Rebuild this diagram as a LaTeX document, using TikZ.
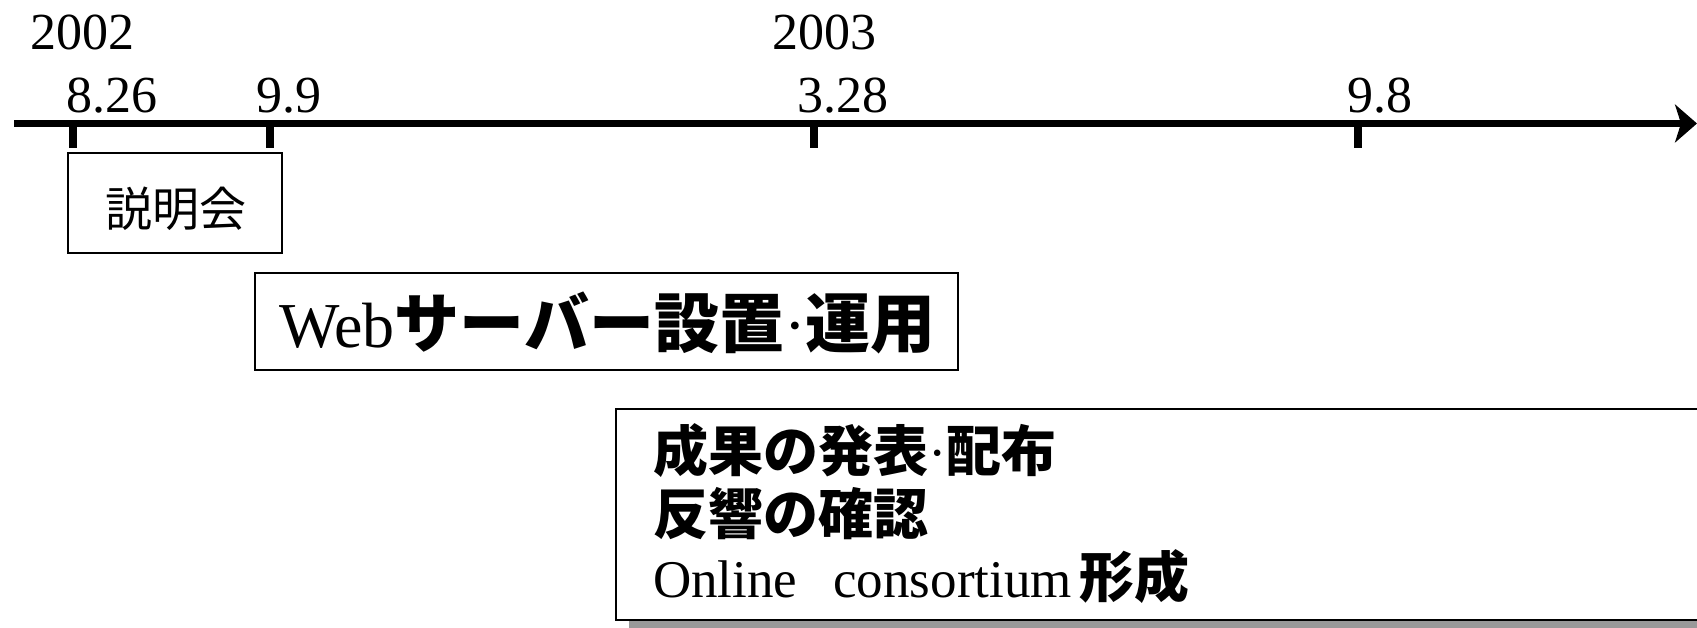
\documentclass[tikz,border=0pt]{standalone}
\usepackage{fontspec}
\setmainfont{Liberation Serif}
\newfontfamily\cjk{Noto Sans CJK JP}
\usetikzlibrary{arrows.meta}
\tikzset{
  lbl/.style={anchor=base west, inner sep=0pt, font=\fontsize{52}{52}\selectfont},
  evbox/.style={draw=black, line width=1.6pt, fill=white, inner sep=0pt},
  txt/.style={anchor=base west, inner sep=0pt},
  tickmark/.style={line width=8pt},
  axis/.style={line width=7pt, -{Stealth[length=22pt,width=38pt,inset=6pt]}},
}
\begin{document}
\begin{tikzpicture}[x=1pt,y=-1pt]
\useasboundingbox (0,0) rectangle (1697,628);
% axis
\coordinate (a0) at (14,123.5);
\coordinate (a1) at (1697,123.5);
\draw[axis] (a0) -- (a1);
% ticks
\foreach \n/\x in {t1/73, t2/270, t3/814, t4/1358}{
  \coordinate (\n) at (\x,123.5);
  \draw[tickmark] (\n) -- ++(0,25);
}
% labels
\node[lbl] (y2002) at (30,50) {2002};
\node[lbl] (y2003) at (772,50) {2003};
\node[lbl] (d1) at (66,113) {8.26};
\node[lbl] (d2) at (256,113) {9.9};
\node[lbl] (d3) at (797,113) {3.28};
\node[lbl] (d4) at (1347,113) {9.8};
% box 1
\node[evbox, minimum width=214pt, minimum height=100pt] (b1) at (175,203) {};
\node[txt, font=\cjk\fontsize{47}{47}\selectfont] (b1t) at (105,227) {説明会};
% box 2
\node[evbox, minimum width=703pt, minimum height=97pt] (b2) at (606.5,321.5) {};
\node[txt] (b2t) at (279,347) {\fontsize{64}{64}\selectfont Web\cjk\bfseries\fontsize{65}{65}\selectfont サーバー設置\rmfamily\mdseries ·\cjk\bfseries 運用};
% box 3 with shadow
\fill[black!40] (629,427) rectangle (1720,640);
\node[evbox, minimum width=1100pt, minimum height=211pt, anchor=north west] (b3) at (615,408) {};
\node[txt, font=\cjk\bfseries\fontsize{55}{55}\selectfont] (l1) at (653,471) {成果の発表\rmfamily\mdseries ·\cjk\bfseries 配布};
\node[txt, font=\cjk\bfseries\fontsize{55}{55}\selectfont] (l2) at (653,534) {反響の確認};
\node[txt] (l3) at (653,597) {\fontsize{53}{53}\selectfont Online\hspace{36pt}consortium\hspace{8pt}{\cjk\bfseries\fontsize{55}{55}\selectfont 形成}};
\end{tikzpicture}
\end{document}
